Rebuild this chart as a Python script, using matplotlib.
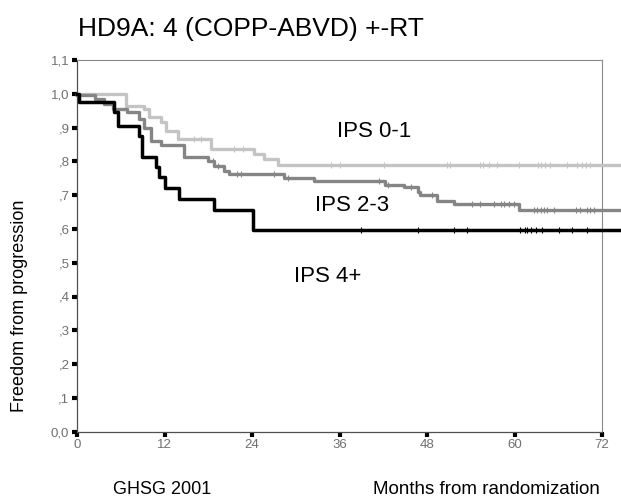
import matplotlib.pyplot as plt
import numpy as np

plt.rcParams['font.family'] = ['Liberation Sans', 'DejaVu Sans']

# Kaplan-Meier step points (months, survival)
t_low = [0, 6.7, 9.2, 9.9, 11.5, 12.2, 13.8, 18.4, 24.3, 25.7, 27.5, 74.7]
s_low = [1.0, 0.965, 0.955, 0.93, 0.915, 0.89, 0.866, 0.837, 0.822, 0.807, 0.79, 0.79]
c_low = [16.0, 17.0, 21.5, 22.7, 34.8, 36.0, 42.1, 50.8, 51.1, 55.3, 55.7, 56.5,
         57.6, 60.6, 63.2, 63.6, 64.2, 64.8, 67.2, 68.6, 69.3, 69.8, 70.4]

t_mid = [0, 2.4, 3.7, 4.9, 6.9, 8.5, 9.2, 10.1, 11.5, 14.7, 17.9, 18.8, 20.2, 20.9,
         28.4, 32.5, 42.3, 44.8, 46.7, 47.1, 49.4, 51.7, 60.6, 74.7]
s_mid = [0.995, 0.985, 0.969, 0.955, 0.945, 0.925, 0.9, 0.861, 0.847, 0.812, 0.8,
         0.785, 0.77, 0.763, 0.751, 0.741, 0.731, 0.724, 0.709, 0.699, 0.682, 0.675,
         0.657, 0.657]
c_mid = [18.6, 19.3, 22.0, 22.5, 27.0, 28.9, 41.4, 42.6, 45.8, 48.7, 54.2, 55.3,
         57.2, 58.1, 58.6, 59.2, 59.9, 62.6, 63.1, 63.6, 64.0, 64.5, 65.4, 68.4,
         69.0, 69.9, 70.4, 70.9]

t_high = [0, 0.3, 5.1, 5.6, 8.5, 8.9, 10.8, 11.3, 12.0, 14.0, 18.8, 24.2, 74.7]
s_high = [1.0, 0.975, 0.945, 0.903, 0.876, 0.812, 0.783, 0.753, 0.722, 0.689,
          0.657, 0.596, 0.596]
c_high = [39.0, 46.7, 51.7, 53.5, 60.8, 61.4, 61.7, 62.2, 62.9, 63.8, 66.1, 67.9, 69.9]

x_ticks = [0, 12, 24, 36, 48, 60, 72]
y_ticks = [0.0, 0.1, 0.2, 0.3, 0.4, 0.5, 0.6, 0.7, 0.8, 0.9, 1.0, 1.1]
y_labels = ['0,0', ',1', ',2', ',3', ',4', ',5', ',6', ',7', ',8', ',9', '1,0', '1,1']

fig = plt.figure(figsize=(6.21, 5), dpi=100)
ax = fig.add_axes([0.124, 0.1366, 0.8455, 0.7436])


def km(t, s, cens, color, lw):
    ax.step(t, s, where='post', color=color, lw=lw, clip_on=False, zorder=3)
    idx = np.searchsorted(t, cens, side='right') - 1
    ax.plot(cens, np.array(s)[idx], ls='none', marker='|', ms=5, mew=0.8,
            color=color, zorder=3)


km(t_low, s_low, c_low, '#c4c4c4', 2.4)
km(t_mid, s_mid, c_mid, '#858585', 2.4)
km(t_high, s_high, c_high, 'black', 2.5)

ax.set_xlim(0, 72)
ax.set_ylim(0, 1.1)
ax.set_xticks(x_ticks)
ax.set_yticks(y_ticks)
ax.set_yticklabels(y_labels)
ax.tick_params(length=3.5, width=3, color='black', labelcolor='#707070',
               labelsize=9.5, pad=2)
for side in ['left', 'bottom']:
    ax.spines[side].set_color('#505050')
    ax.spines[side].set_linewidth(0.9)
for side in ['top', 'right']:
    ax.spines[side].set_color('#8a8a8a')
    ax.spines[side].set_linewidth(0.8)

ax.text(35.7, 0.887, 'IPS 0-1', fontsize=16, va='center')
ax.text(32.7, 0.67, 'IPS 2-3', fontsize=16, va='center')
ax.text(29.8, 0.46, 'IPS 4+', fontsize=16, va='center')

fig.text(0.1256, 0.942, 'HD9A: 4 (COPP-ABVD) +-RT', fontsize=19, va='center')
fig.text(0.032, 0.388, 'Freedom from progression', rotation=90, fontsize=13,
         ha='center', va='center')
fig.text(0.182, 0.022, 'GHSG 2001', fontsize=13, va='center')
fig.text(0.6006, 0.022, 'Months from randomization', fontsize=13.5, va='center')

fig.savefig('out.png', dpi=100)
